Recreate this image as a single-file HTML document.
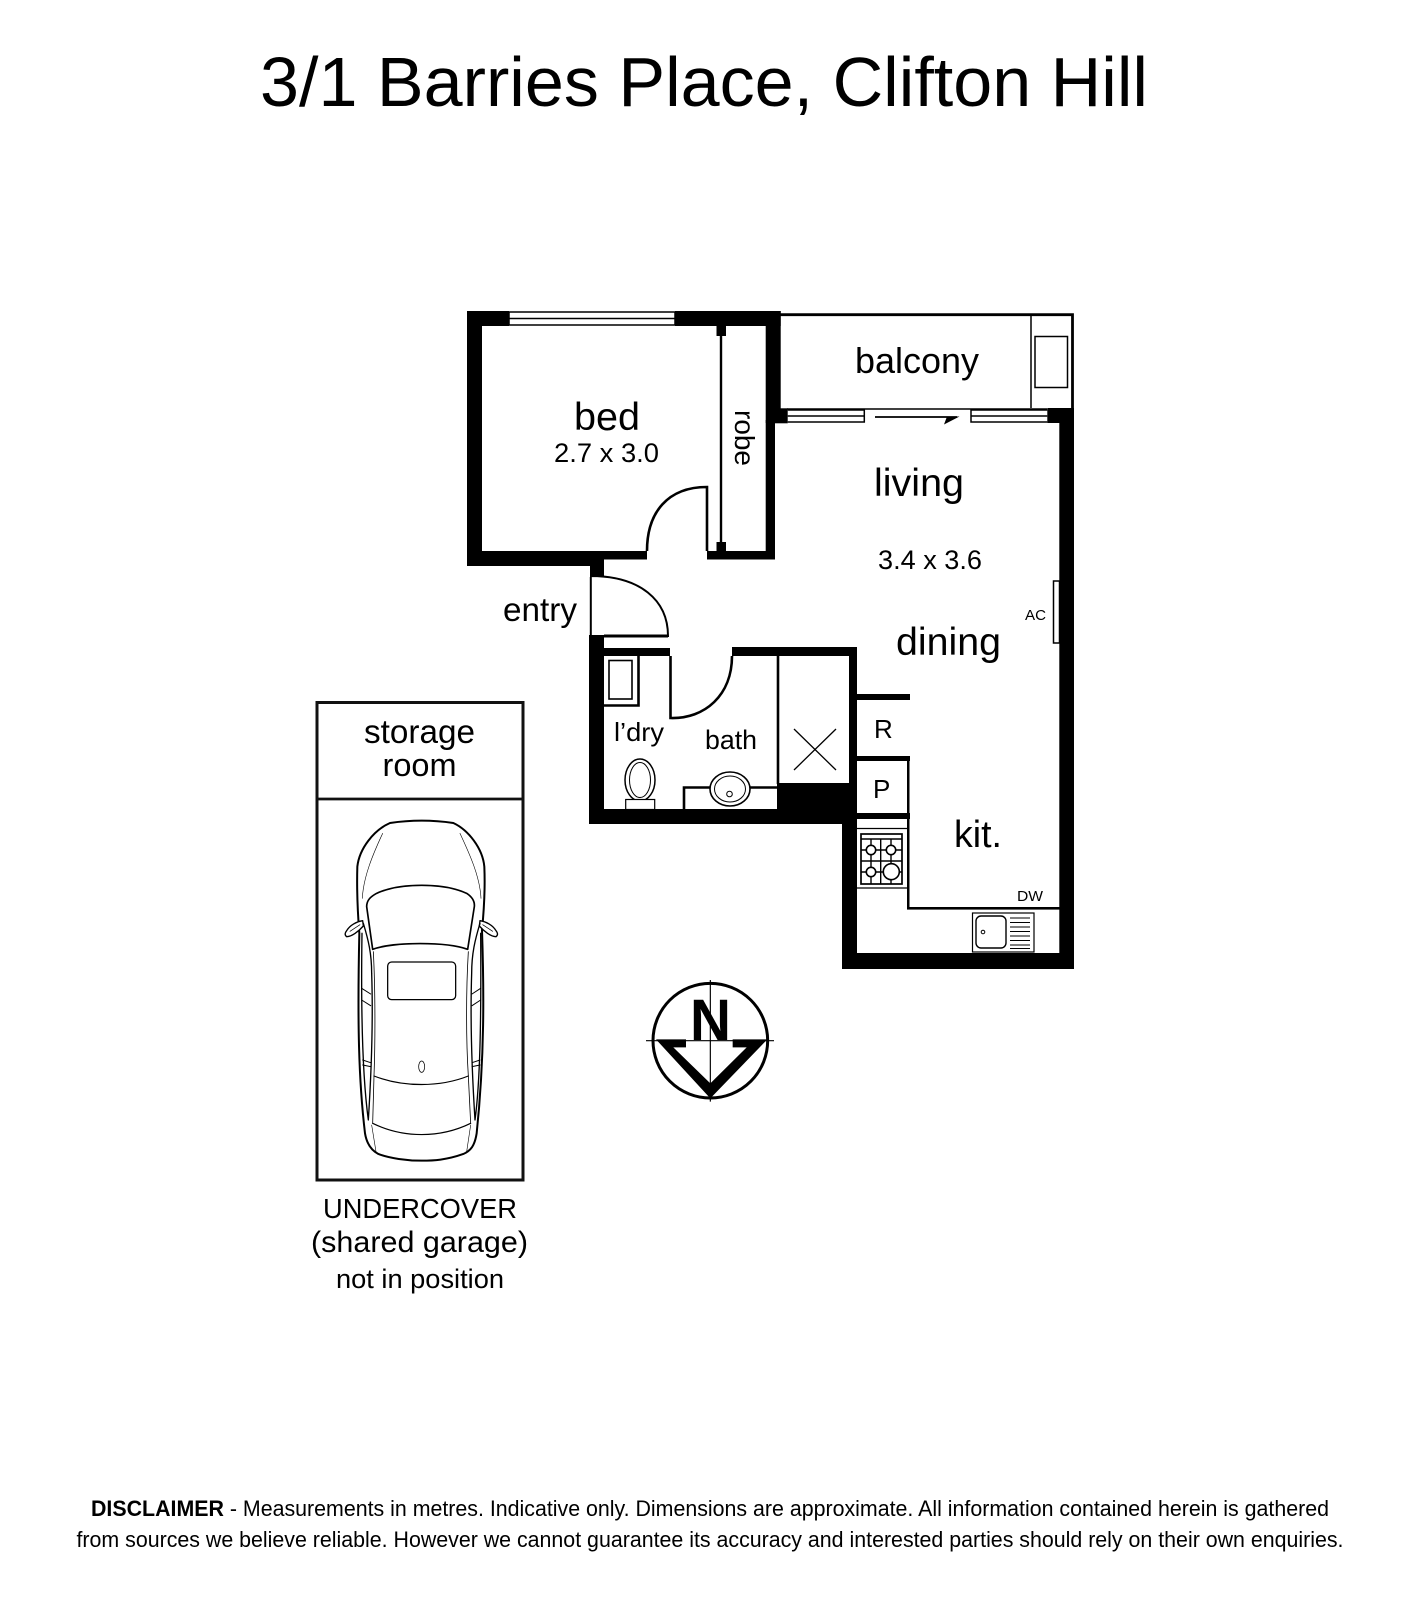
<!DOCTYPE html>
<html><head><meta charset="utf-8"><style>
html,body{margin:0;padding:0;background:#fff;width:1418px;height:1600px;overflow:hidden}
svg{display:block}
text{font-family:"Liberation Sans",Arial,sans-serif;fill:#000}
</style></head><body>
<svg xmlns="http://www.w3.org/2000/svg" width="1418" height="1600" viewBox="0 0 1418 1600">
<rect width="1418" height="1600" fill="#fff"/>
<text x="260" y="106" font-size="70" textLength="888" lengthAdjust="spacingAndGlyphs">3/1 Barries Place, Clifton Hill</text>

<!-- walls -->
<g fill="#000">
<rect x="467" y="311" width="15" height="255"/>
<rect x="467" y="311" width="42" height="15"/>
<rect x="675" y="311" width="105.7" height="15"/>
<rect x="765.7" y="311" width="15" height="112"/>
<rect x="765.7" y="420" width="9.3" height="139"/>
<rect x="775" y="408.3" width="12.7" height="15"/>
<rect x="467" y="551" width="137" height="15"/>
<rect x="604" y="551" width="43" height="8.5"/>
<rect x="707" y="551" width="68" height="8.5"/>
<rect x="590" y="566" width="14" height="11"/>
<rect x="589" y="635" width="15" height="189"/>
<rect x="604" y="648" width="66" height="8"/>
<rect x="732" y="647" width="125" height="9"/>
<rect x="849" y="647" width="8" height="173"/>
<rect x="589" y="809" width="253" height="15"/>
<rect x="777" y="783" width="80" height="41"/>
<rect x="842" y="813" width="15" height="156"/>
<rect x="842" y="953" width="232" height="16"/>
<rect x="1059.3" y="408" width="14.7" height="561"/>
<rect x="1047.3" y="408" width="26.7" height="15"/>
<rect x="857" y="694" width="53" height="6"/>
<rect x="857" y="756" width="53" height="5"/>
<rect x="857" y="813" width="53" height="6"/>
<rect x="907" y="761" width="2.5" height="52"/>
<rect x="907" y="819" width="2.5" height="90"/>
<rect x="907" y="907" width="153" height="2.6"/>
<rect x="716.5" y="326" width="9.5" height="10"/>
<rect x="716.5" y="542" width="9.5" height="9"/>
<rect x="719.8" y="326" width="2.4" height="225"/>
</g>

<g fill="none" stroke="#000" stroke-width="1.5">
<!-- bedroom window -->
<rect x="509" y="312" width="166" height="13"/>
<line x1="509" y1="318.5" x2="675" y2="318.5"/>
<!-- balcony -->
<path d="M780 314.7H1072.5V408" stroke-width="2.8"/>
<line x1="1031" y1="316" x2="1031" y2="408"/>
<rect x="1035" y="336.5" width="32.5" height="51"/>
<line x1="787" y1="409" x2="1047" y2="409" stroke-width="1.5"/>
<!-- balcony door windows -->
<path d="M787.7 410H864.3V422H787.7M787.7 416H864.3"/>
<path d="M1047.3 410H971V422H1047.3M1047.3 416H971"/>
<!-- AC -->
<rect x="1053.5" y="581" width="6" height="62"/>
<!-- bed door -->
<path d="M647 551C647 512 668 487 707 487V551" stroke-width="2.6"/>
<!-- entry door -->
<path d="M590.8 577V636H668C668 600 640 576 590.5 576" stroke-width="2"/>
<path d="M604 636H668" stroke-width="3"/>
<!-- bath door -->
<path d="M670.5 656V718C705 719 732 695 732 656" stroke-width="2.6"/>
<!-- riser -->
<line x1="778" y1="656" x2="778" y2="784" stroke-width="2.6"/>
<path d="M794 729L836 770M836 729L794 770" stroke-width="1.3"/>
<!-- laundry -->
<path d="M604 705.5H638.5V656" stroke-width="2.6"/>
<rect x="609" y="660.5" width="23" height="38.5" stroke-width="1.6"/>
<!-- toilet -->
<ellipse cx="640" cy="780" rx="15" ry="21" stroke-width="1.5" fill="#fff"/>
<ellipse cx="640" cy="780" rx="10.5" ry="17.5" stroke-width="1"/>
<rect x="625.7" y="799.5" width="29" height="10" stroke-width="1.2" fill="#fff"/>
<!-- vanity -->
<path d="M684 809V787.5H777" stroke-width="2.6"/>
<ellipse cx="730" cy="789" rx="20" ry="17" stroke-width="1.6" fill="#fff"/>
<ellipse cx="730" cy="789" rx="15.5" ry="13" stroke-width="1"/>
<circle cx="729.5" cy="794" r="2.8" stroke-width="1"/>
<!-- stove -->
<path d="M857 828.5H907M857 888H907" stroke-width="1.2"/>
<rect x="861" y="834" width="41" height="50" stroke-width="1.7"/>
<path d="M861 839H902M880.7 839V884M861 861H902M871 839V884M891 839V884M861 850H902M861 872H902" stroke-width="1.4"/>
<g fill="#fff" stroke-width="1.6">
<circle cx="871" cy="850" r="4.7"/><circle cx="891" cy="850" r="4.7"/>
<circle cx="871" cy="872" r="4.7"/><circle cx="891.3" cy="871.7" r="8"/>
</g>
<!-- sink -->
<rect x="972.5" y="913" width="61.5" height="39" stroke-width="1.2"/>
<rect x="976" y="916" width="30" height="32" rx="5" stroke-width="1.4"/>
<circle cx="983" cy="932" r="1.8" stroke-width="1"/>
<path d="M1010 918H1030M1010 922.5H1030M1010 927H1030M1010 931.5H1030M1010 936H1030M1010 940.5H1030M1010 945H1030M1010 948.5H1030" stroke-width="1.1"/>
</g>
<!-- slider arrow -->
<line x1="875" y1="417" x2="957" y2="417" stroke="#000" stroke-width="1.8"/>
<polygon points="944,424.5 959.5,416.5 947,416.5" fill="#000"/>

<!-- room labels -->
<text x="574" y="430" font-size="39" textLength="66" lengthAdjust="spacingAndGlyphs">bed</text>
<text x="554" y="462" font-size="27" textLength="105" lengthAdjust="spacingAndGlyphs">2.7 x 3.0</text>
<text transform="translate(735,410) rotate(90)" font-size="28" textLength="56" lengthAdjust="spacingAndGlyphs">robe</text>
<text x="855" y="373" font-size="36" textLength="124" lengthAdjust="spacingAndGlyphs">balcony</text>
<text x="874" y="496" font-size="39" textLength="90" lengthAdjust="spacingAndGlyphs">living</text>
<text x="878" y="569" font-size="27" textLength="104" lengthAdjust="spacingAndGlyphs">3.4 x 3.6</text>
<text x="896" y="655" font-size="39" textLength="105" lengthAdjust="spacingAndGlyphs">dining</text>
<text x="503" y="621" font-size="33" textLength="74" lengthAdjust="spacingAndGlyphs">entry</text>
<text x="1025" y="620" font-size="14.5" textLength="21" lengthAdjust="spacingAndGlyphs">AC</text>
<text x="614" y="741" font-size="26" textLength="50" lengthAdjust="spacingAndGlyphs">l’dry</text>
<text x="705" y="749" font-size="26.5" textLength="52" lengthAdjust="spacingAndGlyphs">bath</text>
<text x="874" y="738" font-size="26">R</text>
<text x="873" y="798" font-size="26">P</text>
<text x="954" y="847" font-size="38" textLength="48" lengthAdjust="spacingAndGlyphs">kit.</text>
<text x="1017" y="901" font-size="15" textLength="26" lengthAdjust="spacingAndGlyphs">DW</text>

<!-- garage -->
<rect x="317" y="702.5" width="206" height="477.5" fill="none" stroke="#111" stroke-width="3"/>
<line x1="317" y1="799" x2="523" y2="799" stroke="#111" stroke-width="2.8"/>
<text x="364" y="743" font-size="33" textLength="111" lengthAdjust="spacingAndGlyphs">storage</text>
<text x="382.5" y="776" font-size="32.5" textLength="74" lengthAdjust="spacingAndGlyphs">room</text>

<!-- car -->
<g transform="translate(300,690) scale(.33333)" fill="none" stroke="#000" stroke-linejoin="round" stroke-linecap="round">
<path stroke-width="6" d="M270 399Q365 385 460 399C505 420 548 475 553 530C556 600 550 680 546 720C552 900 554 1100 530 1330C524 1368 512 1382 490 1392C440 1410 400 1412 365 1412C320 1412 270 1405 235 1392C212 1380 200 1360 195 1330C176 1170 172 1000 178 730C174 680 170 600 172 530C178 475 222 420 270 399Z"/>
<path stroke-width="5" d="M218 778L200 650C200 630 212 620 230 610C300 578 430 578 500 610C515 620 525 632 523 650L503 778C440 755 280 755 218 778Z"/>
<path stroke-width="3.5" d="M222 1158C310 1192 420 1192 505 1158M218 1300C310 1345 420 1345 512 1300"/>
<path stroke-width="2.4" d="M222 1158L218 1300M505 1158L512 1300"/>
<rect x="263" y="816" width="204" height="113" rx="12" stroke-width="3.8"/>
<ellipse cx="365" cy="1130" rx="9" ry="17" stroke-width="2.2"/>
<path stroke-width="4" fill="#fff" d="M140 722C150 705 170 695 188 692L190 708C175 725 155 740 140 740C133 735 135 728 140 722Z"/>
<path stroke-width="4" fill="#fff" d="M588 722C578 705 558 695 540 692L538 708C553 725 573 740 588 740C595 735 593 728 588 722Z"/>
<path stroke-width="2" d="M150 724L180 704M578 724L548 704"/>
<path stroke-width="1.8" d="M248 430C220 490 190 560 187 625M480 430C508 490 540 560 543 625"/>
<path stroke-width="2.4" d="M220 785C226 900 226 1050 222 1158M505 785C498 900 498 1050 505 1158"/>
<path stroke-width="4" d="M190 700C205 750 215 790 215 850C220 1000 212 1180 205 1290C190 1180 182 1000 186 730"/>
<path stroke-width="4" d="M540 700C525 750 515 790 515 850C510 1000 518 1180 525 1290C540 1180 544 1000 542 730"/>
<path stroke-width="3" d="M185 895L212 912M185 930L212 947M188 1110L212 1118M188 1125L212 1130M542 895L516 912M542 930L516 947M540 1110L516 1118M540 1125L516 1130"/>
<path stroke-width="1.8" d="M215 1305L228 1385M512 1305L500 1385"/>
</g>

<text x="323" y="1218" font-size="27.3" textLength="194" lengthAdjust="spacingAndGlyphs">UNDERCOVER</text>
<text x="311" y="1252" font-size="30" textLength="217" lengthAdjust="spacingAndGlyphs">(shared garage)</text>
<text x="336" y="1288" font-size="27" textLength="168" lengthAdjust="spacingAndGlyphs">not in position</text>

<!-- north -->
<g transform="translate(630,970) scale(.33333)">
<circle cx="241" cy="212" r="172" fill="none" stroke="#000" stroke-width="9"/>
<path d="M48 212H432M241 30V395" stroke="#000" stroke-width="3.5" fill="none"/>
<polygon points="78,208 168,208 168,232 130,232 241,340 350,232 308,232 308,208 412,208 241,385" fill="#000"/>
</g>
<text x="690" y="1040" font-size="58" font-weight="bold" textLength="41" lengthAdjust="spacingAndGlyphs">N</text>

<!-- disclaimer -->
<text x="91" y="1516" font-size="22" textLength="1238" lengthAdjust="spacingAndGlyphs"><tspan font-weight="bold">DISCLAIMER</tspan> - Measurements in metres. Indicative only. Dimensions are approximate. All information contained herein is gathered</text>
<text x="76.5" y="1547" font-size="22" textLength="1267" lengthAdjust="spacingAndGlyphs">from sources we believe reliable. However we cannot guarantee its accuracy and interested parties should rely on their own enquiries.</text>
</svg>
</body></html>
